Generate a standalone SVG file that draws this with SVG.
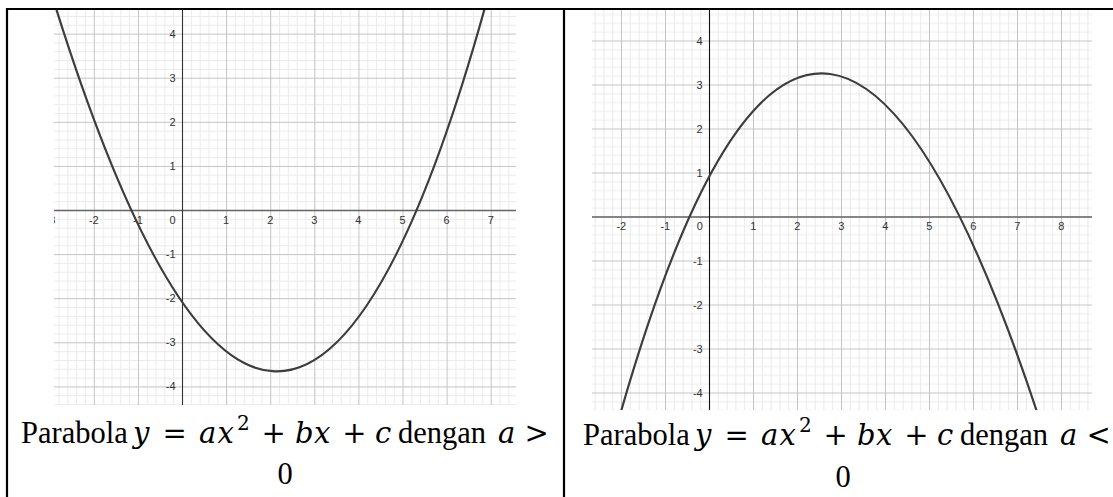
<svg xmlns="http://www.w3.org/2000/svg" width="1113" height="497" viewBox="0 0 1113 497">
<style>
.minor{fill:#ebebeb}
.major{fill:#c4c4c4}
.axisx{stroke:#666;stroke-width:1.6}
.axisy{stroke:#333;stroke-width:1.1}
.curve{fill:none;stroke:#3d3d3d;stroke-width:2.2}
.tk{font-family:"Liberation Sans",Arial,sans-serif;font-size:11px;fill:#333}
.tkx{text-anchor:middle}
.tky{text-anchor:end}
.cap{font-family:"Liberation Serif","Times New Roman",serif;font-size:30.5px;fill:#000}
.mi{font-family:"DejaVu Serif",serif;font-style:italic;font-size:29px}
.op{font-family:"DejaVu Serif",serif;font-size:29px}
.sup{font-family:"DejaVu Serif",serif;font-size:20px}
.zero{text-anchor:middle}
.border{stroke:#000;stroke-width:2.2;fill:none}
</style>
<defs>
<pattern id="gridL" patternUnits="userSpaceOnUse" x="182" y="210" width="44.1" height="44.1">
<rect width="44.1" height="44.1" fill="#fff"/>
<rect class="minor" x="8.82" y="0" width="1" height="44.1"/>
<rect class="minor" x="17.64" y="0" width="1" height="44.1"/>
<rect class="minor" x="26.46" y="0" width="1" height="44.1"/>
<rect class="minor" x="35.28" y="0" width="1" height="44.1"/>
<rect class="minor" x="0" y="8.82" width="44.1" height="1"/>
<rect class="minor" x="0" y="17.64" width="44.1" height="1"/>
<rect class="minor" x="0" y="26.46" width="44.1" height="1"/>
<rect class="minor" x="0" y="35.28" width="44.1" height="1"/>
<rect class="major" x="0" y="0" width="1" height="44.1"/>
<rect class="major" x="0" y="0" width="44.1" height="1"/>
</pattern>
<pattern id="gridR" patternUnits="userSpaceOnUse" x="709" y="216.5" width="44" height="44">
<rect width="44" height="44" fill="#fff"/>
<rect class="minor" x="8.8" y="0" width="1" height="44"/>
<rect class="minor" x="17.6" y="0" width="1" height="44"/>
<rect class="minor" x="26.4" y="0" width="1" height="44"/>
<rect class="minor" x="35.2" y="0" width="1" height="44"/>
<rect class="minor" x="0" y="8.8" width="44" height="1"/>
<rect class="minor" x="0" y="17.6" width="44" height="1"/>
<rect class="minor" x="0" y="26.4" width="44" height="1"/>
<rect class="minor" x="0" y="35.2" width="44" height="1"/>
<rect class="major" x="0" y="0" width="1" height="44"/>
<rect class="major" x="0" y="0" width="44" height="1"/>
</pattern>
<clipPath id="clipL"><rect x="54" y="10" width="462" height="395"/></clipPath>
<clipPath id="clipR"><rect x="592" y="10" width="500" height="400"/></clipPath>
</defs>
<rect width="1113" height="497" fill="#fff"/>
<g id="table-borders">
<line class="border" x1="6" y1="9" x2="1113" y2="9"/>
<line class="border" x1="7" y1="8" x2="7" y2="497"/>
<line class="border" x1="564" y1="8" x2="564" y2="497"/>
</g>
<g id="graph-left" clip-path="url(#clipL)">
<rect x="54" y="10" width="462" height="395" fill="url(#gridL)"/>
<line class="axisx" x1="54" y1="210.5" x2="516" y2="210.5"/>
<line class="axisy" x1="182.5" y1="10" x2="182.5" y2="405"/>
<g class="tk tkx">
<text x="50.5" y="223.5">-3</text>
<text x="93.8" y="223.5">-2</text>
<text x="137.9" y="223.5">-1</text>
<text x="172.5" y="223.5">0</text>
<text x="226.1" y="223.5">1</text>
<text x="270.2" y="223.5">2</text>
<text x="314.3" y="223.5">3</text>
<text x="358.4" y="223.5">4</text>
<text x="402.5" y="223.5">5</text>
<text x="446.6" y="223.5">6</text>
<text x="490.7" y="223.5">7</text>
</g>
<g class="tk tky">
<text x="175.5" y="37.5">4</text>
<text x="175.5" y="81.6">3</text>
<text x="175.5" y="125.7">2</text>
<text x="175.5" y="169.8">1</text>
<text x="175.5" y="258">-1</text>
<text x="175.5" y="302.1">-2</text>
<text x="175.5" y="346.2">-3</text>
<text x="175.5" y="390.3">-4</text>
</g>
<path class="curve" d="M51.9,-4.9 C200.4,475.35 348.8,529.35 497.3,-38.2"/>
</g>
<g id="graph-right" clip-path="url(#clipR)">
<rect x="592" y="10" width="500" height="400" fill="url(#gridR)"/>
<line class="axisx" x1="592" y1="217" x2="1092" y2="217"/>
<line class="axisy" x1="709.5" y1="10" x2="709.5" y2="410" style="stroke:#111"/>
<g class="tk tkx">
<text x="621.3" y="230">-2</text>
<text x="665.3" y="230">-1</text>
<text x="699.7" y="230">0</text>
<text x="753.3" y="230">1</text>
<text x="797.3" y="230">2</text>
<text x="841.3" y="230">3</text>
<text x="885.3" y="230">4</text>
<text x="929.3" y="230">5</text>
<text x="973.3" y="230">6</text>
<text x="1017.3" y="230">7</text>
<text x="1061.3" y="230">8</text>
</g>
<g class="tk tky">
<text x="702.7" y="44.8">4</text>
<text x="702.7" y="88.8">3</text>
<text x="702.7" y="132.8">2</text>
<text x="702.7" y="176.8">1</text>
<text x="702.7" y="264.8">-1</text>
<text x="702.7" y="308.8">-2</text>
<text x="702.7" y="352.8">-3</text>
<text x="702.7" y="396.8">-4</text>
</g>
<path class="curve" d="M614.7,433.8 C758.4,-83.8 902.2,-9.9 1045.9,439.2"/>
</g>
<g id="caption-left">
<text class="cap" y="443"><tspan x="21">Parabola</tspan><tspan class="mi" x="133">y</tspan><tspan class="op" x="162.5">=</tspan><tspan class="mi" x="199">a</tspan><tspan class="mi" x="217.5">x</tspan><tspan class="sup" x="237" y="430">2</tspan><tspan class="op" x="261.5" y="443">+</tspan><tspan class="mi" x="295">b</tspan><tspan class="mi" x="314">x</tspan><tspan class="op" x="342.3">+</tspan><tspan class="mi" x="375">c</tspan><tspan x="398">dengan</tspan><tspan class="mi" x="498">a</tspan><tspan class="op" x="524.6">&gt;</tspan></text>
<text class="cap zero" x="285" y="484">0</text>
</g>
<g id="caption-right">
<text class="cap" y="445"><tspan x="583">Parabola</tspan><tspan class="mi" x="695">y</tspan><tspan class="op" x="724.5">=</tspan><tspan class="mi" x="761">a</tspan><tspan class="mi" x="779.5">x</tspan><tspan class="sup" x="799" y="432">2</tspan><tspan class="op" x="823.5" y="445">+</tspan><tspan class="mi" x="857">b</tspan><tspan class="mi" x="876">x</tspan><tspan class="op" x="904.3">+</tspan><tspan class="mi" x="937">c</tspan><tspan x="960">dengan</tspan><tspan class="mi" x="1060">a</tspan><tspan class="op" x="1086.6">&lt;</tspan></text>
<text class="cap zero" x="843" y="487">0</text>
</g>
</svg>
